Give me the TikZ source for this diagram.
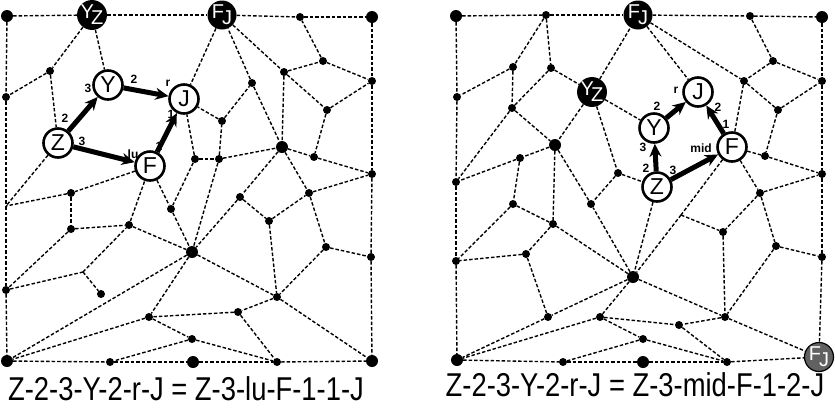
\documentclass[tikz,border=0pt]{standalone}
\usepackage{fontspec}
\setmainfont{Liberation Sans}
\usetikzlibrary{shapes,arrows,arrows.meta,positioning}

\begin{document}
\begin{tikzpicture}[x=1pt,y=-1pt]
    % Define styles
    \tikzstyle{dot} = [circle, fill=black, inner sep=0pt, minimum size=8pt]
    \tikzstyle{bigdot} = [circle, fill=black, inner sep=0pt, minimum size=12pt]
    \tikzstyle{state} = [circle, draw=black, line width=2.6pt, fill=white, inner sep=0pt, minimum size=29pt, font=\fontsize{23}{23}\selectfont]
    \tikzstyle{target} = [circle, fill=black, text=white, inner sep=0pt, minimum size=29pt, font=\fontsize{20}{20}\selectfont]
    \tikzstyle{mesh} = [dash pattern=on 3.5pt off 2pt, line width=1.4pt]
    \tikzstyle{arrow} = [line width=5pt, -{Stealth[length=13pt,width=12pt]}]
    \tikzstyle{tag} = [inner sep=0pt, font=\bfseries\fontsize{12}{12}\selectfont]
    \tikzstyle{caption} = [inner sep=0pt, font=\fontsize{33}{33}\selectfont]

    \useasboundingbox (0,0) rectangle (835,408);

    % Left mesh: nodes
    \foreach \n/\x/\y in {lTL/7/16, lTR/372/17, lBL/7/361, lBR/372/361, lb2/193/362,
                          lc8/282/147, ld5/192/252}
        \node[bigdot] (\n) at (\x,\y) {};
    \foreach \n/\x/\y in {lt1/300/17, ll1/6/97, ll3/6/290, lb1/110/362, lb3/277/362,
                          lr1/372/81, lr2/372/174, lr3/371/257, la/50/71,
                          lc1/195/159, lc2/219/159, lc3/222/121, lc4/252/83, lc5/284/72,
                          lc6/323/61, lc7/327/110, lc9/314/157,
                          ld1/71/193, ld2/71/229, ld3/129/225, ld4/171/209, ld7/101/294,
                          ld8/149/317, ld9/192/339,
                          le1/240/197, le2/269/221, le3/309/193, le4/326/247, le5/277/297, le6/238/312}
        \node[dot] (\n) at (\x,\y) {};
    \coordinate (ll2) at (6,206);
    \coordinate (ld6) at (83,272);
    \node[target] (lYz) at (92,15) {Y\kern-3pt\raisebox{-6pt}{Z}};
    \node[target] (lFj) at (222,15) {F\kern-2pt\raisebox{-6pt}{J}};
    \node[state] (lY) at (108,85) {Y};
    \node[state] (lJ) at (184,99) {J};
    \node[state] (lZ) at (58,143) {Z};
    \node[state] (lF) at (150,166) {F};

    % Left mesh: edges
    \foreach \a/\b in {lTL/lYz, lYz/lFj, lFj/lt1, lt1/lTR,
                       lTL/ll1, ll1/ll2, ll2/ll3, ll3/lBL,
                       lBL/lb1, lb1/lb2, lb2/lb3, lb3/lBR,
                       lTR/lr1, lr1/lr2, lr2/lr3, lr3/lBR,
                       lYz/la, la/ll1, la/lZ, lYz/lY, lZ/ll2,
                       lF/ld1, ld1/ll2, ld1/ld2, ld2/ld3, ld2/ll3, ll3/ld6, ld6/ld7, ld6/ld3,
                       ld3/lF, ld3/ld5, lF/ld4, ld4/ld5, lc1/ld4, lc1/lJ, lc1/lc2, lc2/lc3,
                       lc3/lJ, lc2/lc8, lc2/ld5, lc3/lc4, lc4/lFj, lc4/lc8,
                       lFj/lc5, lFj/lJ, lc5/lc6, lc6/lt1, lc6/lr1, lc5/lc7, lc5/lc8, lc7/lr1,
                       lc7/lc9, lc9/lr2, lc8/lc9, lc8/le1, lc8/le3,
                       le1/ld5, le1/le2, le2/le3, le3/lr2, le3/le4, le4/lr3, le4/le5, le2/le5,
                       ld5/le5, le5/lBR, le5/le6, le6/ld8, le6/lb3,
                       ld9/lb3, ld5/lBL, ld5/ld8, ld8/lBL, ld8/ld9, ld9/lb1}
        \draw[mesh] (\a) -- (\b);

    % Left path arrows
    \draw[arrow] (lZ) -- (lY);
    \draw[arrow] (lY) -- (lJ);
    \draw[arrow] (lZ) -- (lF);
    \draw[arrow] (lF) -- (lJ);
    \node[tag] (lk1) at (88,88) {3};
    \node[tag] (lk2) at (134,79) {2};
    \node[tag] (lk3) at (168,83) {r};
    \node[tag] (lk4) at (171,114) {1};
    \node[tag] (lk5) at (65,118) {2};
    \node[tag] (lk6) at (82,141) {3};
    \node[tag] (lk7) at (133,154) {lu};
    \node[tag] (lk8) at (159,146) {1};

    % Right mesh: nodes
    \foreach \n/\x/\y in {rTL/456/16, rTR/822/17, rBL/457/360, ru2/643/362,
                          rm4/555/145, rp5/633/277}
        \node[bigdot] (\n) at (\x,\y) {};
    \foreach \n/\x/\y in {rs1/546/15, rs2/750/16, rq1/457/97, rq2/456/182, rq3/456/261,
                          ru1/563/362, ru3/727/362, rv1/822/81, rv2/822/174, rv3/822/257,
                          rm1/513/67, rm2/551/68, rm3/512/108, rm5/520/158, rm6/618/173,
                          rn1/744/81, rn2/773/61, rn3/778/110, rn4/765/156, rn5/760/193,
                          rn6/723/232, rn7/776/246,
                          rp1/513/204, rp2/553/224, rp3/591/204, rp4/526/254, rp6/548/317,
                          rp7/600/317, rp8/725/317, rp9/679/325, rp10/643/339}
        \node[dot] (\n) at (\x,\y) {};
    \coordinate (rj) at (681,215);
    \node[target] (rYz) at (592,92) {Y\kern-3pt\raisebox{-6pt}{Z}};
    \node[target] (rFj) at (638,15) {F\kern-2pt\raisebox{-6pt}{J}};
    \node[target, draw=black, line width=1.2pt, fill=black!62] (rFg) at (819,357) {F\kern-2pt\raisebox{-6pt}{J}};
    \node[state] (rY) at (654,128) {Y};
    \node[state] (rJ) at (698,92) {J};
    \node[state] (rF) at (732,147) {F};
    \node[state] (rZ) at (657,187) {Z};

    % Right mesh: edges
    \foreach \a/\b in {rTL/rs1, rs1/rFj, rFj/rs2, rs2/rTR,
                       rTL/rq1, rq1/rq2, rq2/rq3, rq3/rBL,
                       rBL/ru1, ru1/ru2, ru2/ru3, ru3/rFg,
                       rTR/rv1, rv1/rv2, rv2/rv3, rv3/rFg,
                       rs1/rm1, rs1/rm2, rm1/rq1, rm1/rm3, rm2/rm3, rm2/rYz, rm3/rq2, rm3/rm4,
                       rYz/rm4, rYz/rFj, rYz/rm6, rYz/rY, rm4/rm5, rm5/rq2, rm4/rp2, rm4/rp3,
                       rm5/rp1, rm6/rZ, rm6/rp3, rFj/rJ, rFj/rn1, rs2/rn2, rn2/rn1, rn2/rv1,
                       rn1/rn3, rn3/rv1, rn3/rn4, rn4/rv2, rF/rn4, rF/rn1, rF/rn5, rF/rj,
                       rj/rp5, rj/rn6, rn5/rv2, rn5/rn6, rn5/rn7, rn7/rv3, rn7/rp8, rn6/rp8,
                       rp5/rp8, rp8/rFg, rp8/rp9, rp9/ru3, rp10/ru3, rp7/rp9, rp7/rp10,
                       rp10/ru1, rp5/rp2, rp5/rp7, rp5/rp6, rp5/rp3, rZ/rp5,
                       rp1/rq3, rp1/rp2, rp2/rp4, rp4/rq3, rp4/rp6, rp6/rBL, rp7/rBL}
        \draw[mesh] (\a) -- (\b);

    % Right path arrows
    \draw[arrow] (rZ) -- (rY);
    \draw[arrow] (rY) -- (rJ);
    \draw[arrow] (rZ) -- (rF);
    \draw[arrow] (rF) -- (rJ);
    \node[tag] (rk1) at (646,168) {2};
    \node[tag] (rk2) at (643,147) {3};
    \node[tag] (rk3) at (673,170) {3};
    \node[tag] (rk4) at (701,148) {mid};
    \node[tag] (rk5) at (657,106) {2};
    \node[tag] (rk6) at (676,90) {r};
    \node[tag] (rk7) at (718,107) {2};
    \node[tag] (rk8) at (726,124) {1};

    % Captions
    \node[caption] (capl) at (186,389) {\scalebox{0.83}[1]{Z-2-3-Y-2-r-J = Z-3-lu-F-1-1-J}};
    \node[caption] (capr) at (635,385) {\scalebox{0.83}[1]{Z-2-3-Y-2-r-J = Z-3-mid-F-1-2-J}};
\end{tikzpicture}
\end{document}
